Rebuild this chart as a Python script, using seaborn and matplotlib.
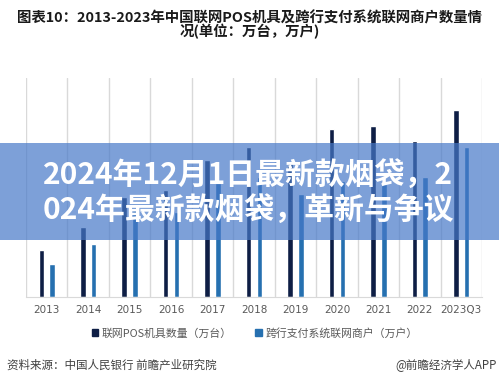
import matplotlib
matplotlib.use("Agg")
import matplotlib.pyplot as plt
import matplotlib.patches as mpatches
import seaborn as sns
import pandas as pd

years = ["2013", "2014", "2015", "2016", "2017", "2018", "2019", "2020", "2021", "2022", "2023Q3"]
pos_terminals = [1063, 1594, 2282, 2453, 3118, 3415, 3103, 3833, 3893, 3556, 4280]
merchants = [763, 1203, 2013, 1930, 2593, 2733, 2362, 2656, 2581, 2731, 3435]
series_names = ["联网POS机具数量（万台）", "跨行支付系统联网商户（万户）"]
colors = ["#0e1e45", "#2670b0"]

df = pd.DataFrame({
    "year": years * 2,
    "series": [series_names[0]] * len(years) + [series_names[1]] * len(years),
    "value": pos_terminals + merchants,
})

sns.set_style("white")
plt.rcParams["font.family"] = ["Noto Sans CJK SC", "DejaVu Sans"]

W, H = 499, 384
fig = plt.figure(figsize=(W / 100, H / 100), dpi=100)
ax = fig.add_axes([26 / W, 1 - 297 / H, 456 / W, 219 / H])

sns.barplot(data=df, x="year", y="value", hue="series", order=years,
            hue_order=series_names, palette=colors, width=0.52, gap=0.49,
            saturation=1, ax=ax, legend=False)

ax.set_xlim(-0.5, len(years) - 0.5)
ax.set_ylim(0, 5000)
ax.set_xlabel("")
ax.set_ylabel("")
ax.set_yticks([])
for b in [i - 0.5 for i in range(len(years) + 1)]:
    ax.axvline(b, color="#d9d9d9", lw=1, zorder=0)
for s in ["top", "right", "left"]:
    ax.spines[s].set_visible(False)
ax.spines["bottom"].set_color("#d9d9d9")
ax.tick_params(axis="x", length=0, pad=6, labelsize=7.5, labelcolor="#595959")
for lab in ax.get_xticklabels():
    lab.set_family("DejaVu Sans")

# legend
handles = [mpatches.Patch(color=c, label=n) for c, n in zip(colors, series_names)]
fig.legend(handles=handles, loc="center", bbox_to_anchor=(0.51, 1 - 333 / H),
           ncol=2, frameon=False, fontsize=7.8, labelcolor="#595959",
           handlelength=0.6, handleheight=0.6, handletextpad=0.3, columnspacing=2.2)

# title
fig.text(0.5, 1 - 18 / H, "图表10：2013-2023年中国联网POS机具及跨行支付系统联网商户数量情",
         ha="center", va="center", fontsize=10.4, fontweight="bold", color="#1a1a1a")
fig.text(0.5, 1 - 32 / H, "况(单位：万台，万户)",
         ha="center", va="center", fontsize=10.4, fontweight="bold", color="#1a1a1a")

# source
fig.text(7 / W, 1 - 365 / H, "资料来源：中国人民银行 前瞻产业研究院",
         ha="left", va="center", fontsize=8.3, color="#404040")
fig.text(497 / W, 1 - 365 / H, "@前瞻经济学人APP",
         ha="right", va="center", fontsize=8.3, color="#404040")

# overlay band
band = mpatches.Rectangle((0, 1 - 240 / H), 1, 97 / H, transform=fig.transFigure,
                          facecolor=(70 / 255, 120 / 255, 200 / 255), alpha=0.7,
                          edgecolor="none", zorder=5)
fig.add_artist(band)
fig.text(43 / W, 1 - 175 / H, "2024年12月1日最新款烟袋，2", ha="left", va="center",
         fontsize=21.5, fontweight="bold", color="white", zorder=6)
fig.text(43 / W, 1 - 210 / H, "024年最新款烟袋，革新与争议", ha="left", va="center",
         fontsize=21.5, fontweight="bold", color="white", zorder=6)

fig.savefig("out.png", dpi=100)
